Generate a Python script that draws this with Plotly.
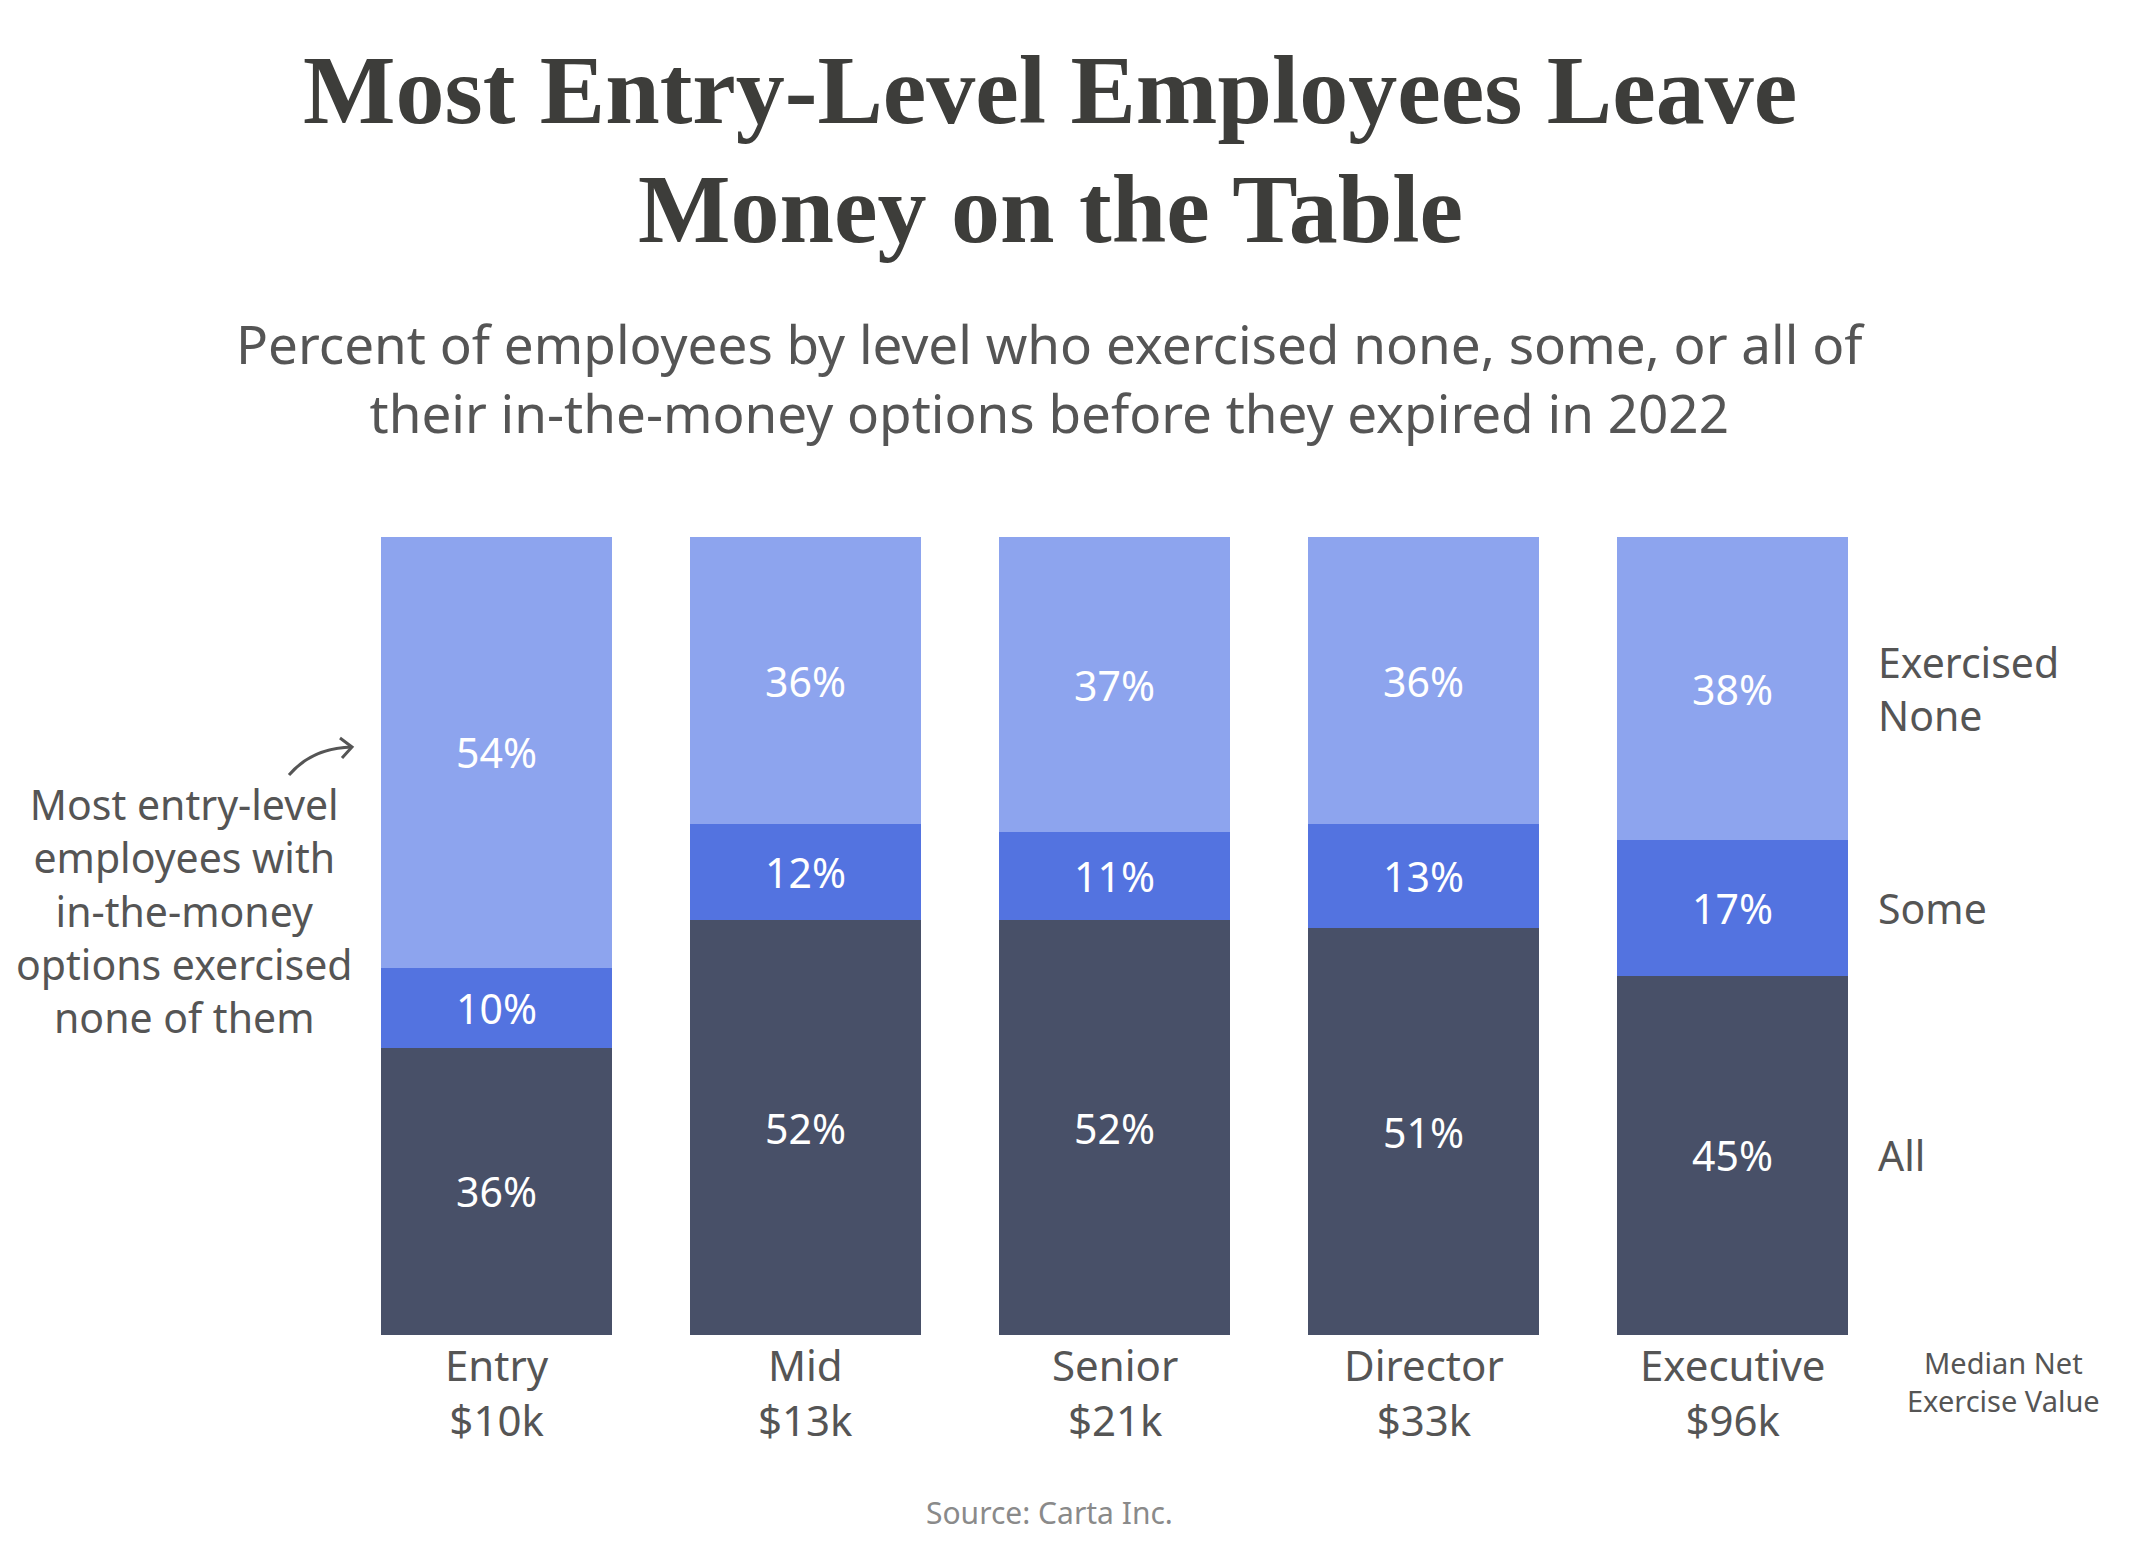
import plotly.graph_objects as go

levels = ["Entry", "Mid", "Senior", "Director", "Executive"]
medians = ["$10k", "$13k", "$21k", "$33k", "$96k"]
pct_all = [36, 52, 52, 51, 45]
pct_some = [10, 12, 11, 13, 17]
pct_none = [54, 36, 37, 36, 38]

series = [("All", pct_all, "#485068"),
          ("Some", pct_some, "#5373e0"),
          ("Exercised<br>None", pct_none, "#8da4ee")]

title_lines = ["Most Entry-Level Employees Leave", "Money on the Table"]
subtitle = ("Percent of employees by level who exercised none, some, or all of<br>"
            "their in-the-money options before they expired in 2022")

SANS = "Noto Sans, Roboto, sans-serif"
GREY = "#555555"
W, H = 2130, 1560
OFF = 8  # page body margin
# plot area in page pixels
PL, PR, PT, PB = 342, 1887, 537, 1335

fig = go.Figure()
for name, vals, col in series:
    fig.add_trace(go.Bar(x=levels, y=vals, name=name, marker_color=col,
                         marker_line_width=0,
                         texttemplate="%{y}%", textposition="inside",
                         insidetextanchor="middle",
                         textfont=dict(family=SANS, size=41, color="white")))


def px2paper(px, py):
    return (px - PL) / (PR - PL), (PB - py) / (PB - PT)


def note(text, px, py, size, color=GREY, **kw):
    x, y = px2paper(px, py)
    d = dict(x=x, xref="paper", y=y, yref="paper", xanchor="center",
             yanchor="middle", text=text, showarrow=False,
             font=dict(family=SANS, size=size, color=color))
    d.update(kw)
    return d


annos = []
# level + median value under each bar
for lvl, med in zip(levels, medians):
    _, y = px2paper(0, 1392)
    annos.append(dict(x=lvl, xref="x", y=y, yref="paper", yanchor="middle",
                      text=f"{lvl}<br>{med}", showarrow=False,
                      font=dict(family=SANS, size=42, color=GREY)))

# series labels at the right, next to the last bar's segments
base = 0
for name, vals, col in series:
    mid = base + vals[-1] / 2
    base += vals[-1]
    annos.append(dict(x=1, xref="paper", xanchor="left", xshift=-11,
                      y=mid, yref="y", yanchor="middle", align="left",
                      text=name, showarrow=False,
                      font=dict(family=SANS, size=41, color=GREY)))

for line, py in zip(title_lines, [90, 209]):
    a = note(f"<b>{line}</b>", 1050, py, 98, color="#3d3d3a")
    a["font"]["family"] = "Liberation Serif, serif"
    annos.append(a)

annos += [
    note(subtitle, 1050, 378, 53),
    note("Most entry-level<br>employees with<br>in-the-money<br>"
         "options exercised<br>none of them", 184, 910, 41),
    note("Median Net<br>Exercise Value", 2003, 1381, 29),
    note("Source: Carta Inc.", 1049, 1512, 30, color="#8a8a8a"),
]

# curved arrow pointing at the entry bar
x0, y0 = px2paper(289, 775)
xc, yc = px2paper(312, 748)
x1, y1 = px2paper(352, 747)
xa, ya = px2paper(340, 738)
xb, yb = px2paper(342, 758)
arrow_line = dict(color=GREY, width=3)
shapes = [
    dict(type="path", xref="paper", yref="paper",
         path=f"M {x0} {y0} Q {xc} {yc} {x1} {y1}", line=arrow_line),
    dict(type="path", xref="paper", yref="paper",
         path=f"M {xa} {ya} L {x1} {y1} L {xb} {yb}", line=arrow_line),
]

fig.update_layout(
    width=W, height=H,
    margin=dict(l=PL - OFF, r=W - PR + OFF, t=PT - OFF, b=H - PB + OFF),
    paper_bgcolor="white", plot_bgcolor="white",
    barmode="stack", bargap=0.252, showlegend=False,
    xaxis=dict(showticklabels=False, showgrid=False, zeroline=False, showline=False),
    yaxis=dict(range=[0, 100], visible=False),
    annotations=annos, shapes=shapes,
)

fig.write_html("out.html")
